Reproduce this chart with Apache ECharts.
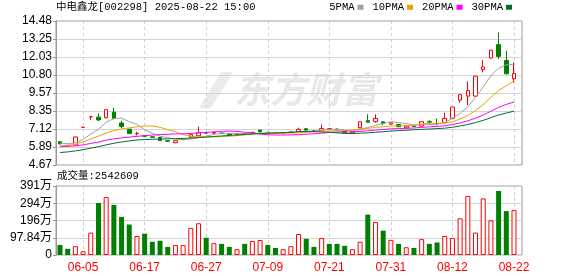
<!DOCTYPE html>
<html><head><meta charset="utf-8">
<script src="https://cdn.jsdelivr.net/npm/echarts@6/dist/echarts.min.js"></script>
<style>html,body{margin:0;padding:0;background:#fff}#c{width:578px;height:276px}</style>
</head><body><div id="c"></div>
<script>
const stockTitle = '中电鑫龙[002298] 2025-08-22 15:00';
const dates = ['05-30','06-03','06-04','06-05','06-06','06-09','06-10','06-11','06-12','06-13','06-16','06-17','06-18','06-19','06-20','06-23','06-24','06-25','06-26','06-27','06-30','07-01','07-02','07-03','07-04','07-07','07-08','07-09','07-10','07-11','07-14','07-15','07-16','07-17','07-18','07-21','07-22','07-23','07-24','07-25','07-28','07-29','07-30','07-31','08-01','08-04','08-05','08-06','08-07','08-08','08-11','08-12','08-13','08-14','08-15','08-18','08-19','08-20','08-21','08-22'];
const xTickLabels = ['06-05','06-17','06-27','07-09','07-21','07-31','08-12','08-22'];
const priceTickLabels = ['4.67','5.89','7.12','8.35','9.57','10.80','12.03','13.25','14.48'];
const volTickLabels = ['0','97.84万','196万','294万','391万'];
const volTickStep = 978400;

const open  = [6.26,5.99,6.03,7.23,7.95,7.93,7.89,8.27,7.53,7.11,6.80,6.66,6.59,6.54,6.32,6.19,6.40,6.56,6.66,6.88,6.84,6.85,6.78,6.74,6.80,6.85,7.05,6.90,6.86,6.84,6.90,6.96,7.14,7.01,7.03,7.14,7.12,7.01,6.86,7.21,7.69,7.62,7.61,7.46,7.43,7.20,7.33,7.32,7.62,7.50,7.55,7.85,9.09,9.36,9.36,11.17,11.96,12.87,11.79,10.54];
const close = [6.11,6.01,6.58,7.24,7.96,7.74,8.44,7.84,7.30,6.81,6.83,6.63,6.56,6.34,6.29,6.33,6.43,6.74,6.86,6.84,6.89,6.82,6.74,6.78,6.76,6.89,6.94,6.87,6.85,6.86,6.92,7.10,7.05,7.02,7.16,7.15,7.06,6.88,6.93,7.62,7.59,7.84,7.51,7.54,7.28,7.32,7.30,7.62,7.59,7.47,7.84,8.62,9.46,9.75,10.72,11.35,12.49,12.07,10.88,10.90];
const high  = [6.30,6.03,6.61,7.24,7.96,8.19,8.47,8.57,7.68,7.14,6.94,6.68,6.62,6.56,6.36,6.34,6.44,6.78,7.28,6.90,6.91,6.88,6.80,6.80,6.82,6.94,7.06,6.92,6.88,6.88,6.96,7.21,7.16,7.04,7.43,7.17,7.14,7.03,6.94,7.62,8.12,8.12,7.64,7.56,7.45,7.34,7.35,7.64,7.72,7.83,8.24,8.62,9.48,10.36,10.72,11.81,12.49,13.70,12.46,11.67];
const low   = [6.08,5.96,6.01,7.23,7.72,7.67,7.85,7.77,7.19,6.79,6.68,6.61,6.53,6.32,6.26,6.16,6.38,6.53,6.64,6.80,6.78,6.78,6.70,6.72,6.74,6.83,6.87,6.85,6.83,6.82,6.88,6.94,6.95,6.99,7.01,7.12,7.04,6.86,6.83,7.18,7.56,7.55,7.39,7.43,7.26,7.18,7.28,7.30,7.48,7.37,7.53,7.83,8.91,8.75,9.34,10.98,11.94,11.90,10.85,10.28];

const ma5  = [6.17,6.13,6.19,6.41,6.78,7.10,7.58,7.84,7.86,7.62,7.44,7.08,6.83,6.63,6.53,6.43,6.39,6.43,6.53,6.64,6.75,6.83,6.83,6.81,6.80,6.80,6.82,6.85,6.86,6.88,6.89,6.92,6.96,6.99,7.05,7.10,7.09,7.05,7.04,7.13,7.22,7.37,7.50,7.62,7.55,7.50,7.39,7.41,7.42,7.46,7.56,7.84,8.20,8.63,9.28,9.98,10.75,11.27,11.50,11.53];
const ma10 = [5.96,6.00,6.09,6.24,6.45,6.64,6.86,7.01,7.13,7.20,7.27,7.33,7.33,7.24,7.08,6.94,6.74,6.63,6.58,6.59,6.59,6.61,6.63,6.67,6.72,6.78,6.83,6.84,6.84,6.84,6.84,6.87,6.90,6.93,6.97,6.99,7.00,7.01,7.01,7.09,7.16,7.23,7.28,7.33,7.34,7.36,7.38,7.46,7.52,7.51,7.53,7.61,7.81,8.03,8.38,8.78,9.29,9.74,10.07,10.41];
const ma20 = [5.93,5.94,5.97,6.04,6.14,6.23,6.36,6.45,6.52,6.57,6.62,6.67,6.71,6.74,6.76,6.79,6.80,6.82,6.86,6.89,6.93,6.97,6.98,6.96,6.90,6.86,6.78,6.73,6.71,6.71,6.72,6.74,6.77,6.80,6.84,6.88,6.92,6.92,6.93,6.96,7.00,7.05,7.09,7.13,7.15,7.17,7.19,7.23,7.27,7.30,7.34,7.42,7.54,7.68,7.86,8.07,8.34,8.60,8.80,8.96];
const ma30 = [5.52,5.56,5.63,5.71,5.82,5.92,6.04,6.15,6.24,6.31,6.38,6.40,6.42,6.44,6.45,6.47,6.48,6.51,6.54,6.57,6.61,6.65,6.68,6.72,6.75,6.78,6.81,6.83,6.85,6.87,6.90,6.94,6.95,6.95,6.92,6.90,6.86,6.82,6.81,6.84,6.86,6.90,6.94,6.98,7.01,7.04,7.07,7.10,7.12,7.15,7.18,7.24,7.33,7.43,7.56,7.71,7.90,8.07,8.21,8.34];

const volumes = [570000,350000,500000,210000,1270000,2950000,3290000,2840000,2160000,1730000,1080000,1210000,750000,810000,460000,560000,560000,1540000,1800000,980000,670000,630000,460000,330000,630000,790000,850000,570000,400000,330000,500000,1190000,920000,460000,960000,630000,630000,520000,330000,750000,2290000,1870000,1380000,860000,630000,440000,400000,900000,630000,710000,1080000,960000,2080000,3350000,1270000,3210000,1970000,3630000,2490000,2542609];
const volUp = [0,0,1,1,1,0,1,0,0,0, 1,0,0,0,0,1,1,1,1,0, 1,0,0,1,0,1,1,0,0,1, 1,1,0,0,1,0,0,0,1,1, 0,1,0,1,0,1,0,1,0,0, 1,1,1,1,1,1,1,0,0,1];

const maNames = ['5PMA','10PMA','20PMA','30PMA'];
const maColors = ['#a0a0a0','#f0a000','#ff00ff','#006e30'];
const maData = [ma5, ma10, ma20, ma30];

const RED = '#ff0000', GREEN = '#008000';
const labelFont = "'Liberation Sans','Noto Sans CJK SC',sans-serif";
const monoFont = "'Liberation Mono','Noto Sans CJK SC',monospace";
const showTick = (i, v) => xTickLabels.indexOf(v) >= 0;

const chart = echarts.init(document.getElementById('c'), null, {renderer: 'canvas'});
const candleData = dates.map((d, i) => [open[i], close[i], low[i], high[i]]);

const option = {
  animation: false,
  backgroundColor: '#fff',
  title: [
    {text: stockTitle, left: 56, top: 2, padding: 0,
     textStyle: {fontSize: 10.5, fontWeight: 'normal', color: '#000', fontFamily: monoFont}},
    {text: '成交量:' + volumes[volumes.length - 1], left: 57, top: 171, padding: 0,
     textStyle: {fontSize: 10.5, fontWeight: 'normal', color: '#000', fontFamily: monoFont}}
  ],
  legend: {
    data: maNames, right: 66, top: 2, padding: 0, align: 'right', icon: 'rect',
    itemWidth: 6, itemHeight: 5, itemGap: 9, selectedMode: false,
    textStyle: {fontSize: 10.5, color: '#000', fontFamily: monoFont, padding: [0, -2, 0, 0]}
  },
  graphic: [
    {type: 'polygon', silent: true, z: -10,
     shape: {points: [[199, 108], [221, 72], [233, 72], [211, 108]]},
     style: {fill: '#ebebeb'}},
    {type: 'text', left: 234, top: 71, silent: true, z: -10,
     style: {text: '东方财富', fill: '#e8e8e8', font: 'italic bold 36px "Noto Sans CJK SC"'}}
  ],
  grid: [
    {left: 56, top: 21, width: 466, height: 144, show: true, borderColor: '#999', borderWidth: 1, backgroundColor: 'transparent'},
    {left: 60, top: 21, width: 454, height: 144},
    {left: 56, top: 186, width: 466, height: 69, show: true, borderColor: '#999', borderWidth: 1, backgroundColor: 'transparent'},
    {left: 60, top: 186, width: 454, height: 69}
  ],
  xAxis: [
    {type: 'category', gridIndex: 0, data: dates, show: false},
    {type: 'category', gridIndex: 1, data: dates, boundaryGap: false,
     axisLine: {show: false}, axisTick: {show: false}, axisLabel: {show: false},
     splitLine: {show: true, interval: showTick, lineStyle: {color: '#cfcfcf', type: [3, 3], width: 1}}},
    {type: 'category', gridIndex: 2, data: dates, show: false},
    {type: 'category', gridIndex: 3, data: dates, boundaryGap: false,
     axisLine: {show: false}, axisTick: {show: false},
     axisLabel: {show: true, interval: showTick, color: RED, fontSize: 12, fontFamily: labelFont, margin: 7},
     splitLine: {show: true, interval: showTick, lineStyle: {color: '#cfcfcf', type: [3, 3], width: 1}}}
  ],
  yAxis: [
    {type: 'value', gridIndex: 0, min: 0, max: priceTickLabels.length - 1, interval: 1,
     axisLine: {show: true, lineStyle: {color: '#999'}},
     axisTick: {show: true, length: 3, lineStyle: {color: '#999'}},
     axisLabel: {color: '#000', fontSize: 12, fontFamily: labelFont, margin: 4,
                 formatter: (v) => priceTickLabels[Math.round(v)]},
     splitLine: {show: true, lineStyle: {color: '#d4d4d4', width: 1}}},
    {type: 'value', gridIndex: 1, min: parseFloat(priceTickLabels[0]), max: parseFloat(priceTickLabels[priceTickLabels.length - 1]),
     show: false, splitLine: {show: false}},
    {type: 'value', gridIndex: 2, min: 0, max: volTickStep * (volTickLabels.length - 1), interval: volTickStep,
     axisLine: {show: true, lineStyle: {color: '#999'}},
     axisTick: {show: true, length: 3, lineStyle: {color: '#999'}},
     axisLabel: {color: '#000', fontSize: 12, fontFamily: labelFont, margin: 4,
                 formatter: (v) => volTickLabels[Math.round(v / volTickStep)]},
     splitLine: {show: true, lineStyle: {color: '#d4d4d4', width: 1}}},
    {type: 'value', gridIndex: 3, min: 0, max: volTickStep * (volTickLabels.length - 1), show: false, splitLine: {show: false}}
  ],
  series: [
    {type: 'candlestick', name: 'K', xAxisIndex: 1, yAxisIndex: 1, data: candleData, barWidth: 4, z: 3,
     itemStyle: {color: '#fff', color0: GREEN, borderColor: RED, borderColor0: GREEN, borderWidth: 1}},
    ...maNames.map((n, k) => ({
      type: 'line', name: n, xAxisIndex: 1, yAxisIndex: 1, data: maData[k], symbol: 'none', z: 4,
      itemStyle: {color: maColors[k]}, lineStyle: {color: maColors[k], width: 1}
    })),
    {type: 'bar', name: 'VOL', xAxisIndex: 3, yAxisIndex: 3, barWidth: 5, z: 3,
     data: volumes.map((v, i) => ({value: v,
       itemStyle: volUp[i] ? {color: '#fff', borderColor: RED, borderWidth: 1} : {color: GREEN}}))}
  ]
};
chart.setOption(option);
</script>
</body></html>
